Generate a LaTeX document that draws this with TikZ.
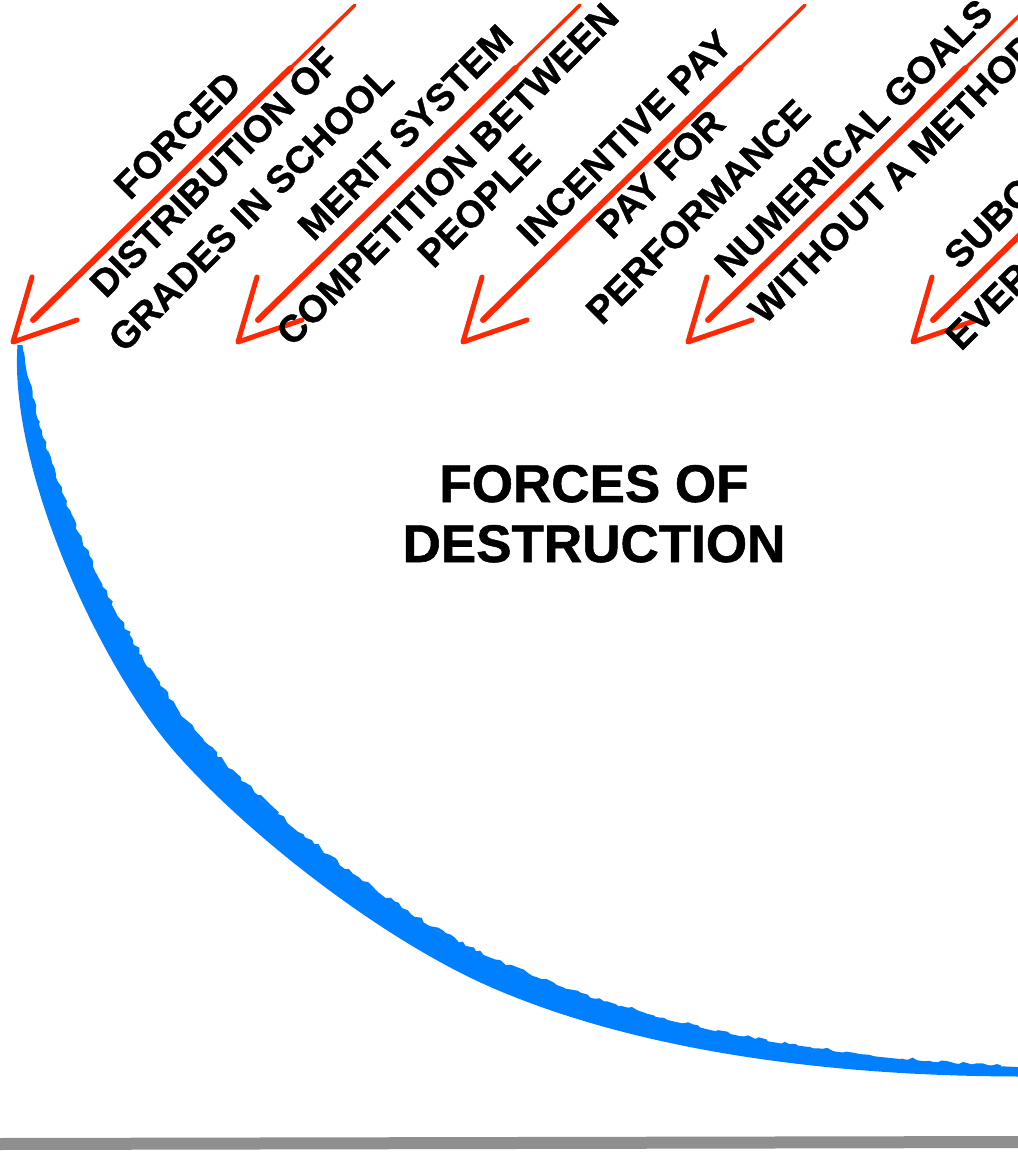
\documentclass[tikz,border=0pt]{standalone}
\usepackage{fontspec}
\setmainfont{Liberation Sans}[BoldFeatures={FakeBold=1}]
\usetikzlibrary{calc,decorations.pathmorphing}
\definecolor{arrowred}{RGB}{255,40,5}
\definecolor{curveblue}{RGB}{0,128,255}
\definecolor{baseg}{RGB}{143,143,143}
\begin{document}
\begin{tikzpicture}[x=1pt,y=-1pt,
  lbl/.style={rotate=45,anchor=base,font=\fontsize{38}{44}\selectfont\bfseries,inner sep=0pt},
  lblw/.style={lbl,anchor=base west},
  shaft/.style={draw=arrowred,line cap=round},
  head/.style={draw=arrowred,line width=5pt,line cap=round,line join=round},
  ttl/.style={font=\fontsize{53}{60}\selectfont\bfseries,anchor=base,inner sep=0pt}]
\pgfmathsetseed{11}
\useasboundingbox (0,0) rectangle (1018,1152);
\fill[white] (0,0) rectangle (1018,1152);
\clip (0,0) rectangle (1018,1152);

% ground line
\draw[baseg,line width=12pt] (-5,1144) -- (1025,1142);

% blue curve (tapered brush stroke)
\fill[curveblue]
  (22.5,345) .. controls (38,469.8) and (120.6,645.9) .. (193.6,730.9)
  .. controls (263.6,811.9) and (386.3,911.6) .. (496.3,961.1)
  .. controls (625.7,1020) and (800.1,1059) .. (1030,1067.5)
  -- (1030,1076.5)
  .. controls (799.9,1077) and (616.3,1043) .. (485.7,984.9)
  .. controls (375.7,935.4) and (242.4,830.1) .. (172.4,749.1)
  .. controls (99.4,664.1) and (9,470.2) .. (17.5,345)
  -- cycle;
% ragged upper edge of the brush stroke
\draw[curveblue,line width=3pt,decorate,decoration={random steps,segment length=5pt,amplitude=2pt}]
  (22.5,352) .. controls (38,469.8) and (120.6,645.9) .. (193.6,730.9)
  .. controls (263.6,811.9) and (386.3,911.6) .. (496.3,961.1)
  .. controls (625.7,1020) and (800.1,1059) .. (1000,1066.5);

% red arrows
\foreach \k in {0,...,4}{
  \pgfmathsetmacro{\dx}{225*\k}
  \coordinate (tail\k) at (355+\dx,5);
  \coordinate (send\k) at (33+\dx,320);
  \coordinate (tip\k) at (13+\dx,342);
  \coordinate (up\k) at (32+\dx,277);
  \coordinate (rt\k) at (77+\dx,320);
  \draw[shaft,line width=3.5pt] (tail\k) -- (send\k);
  \draw[shaft,line width=6pt] ($(tail\k)!0.2!(send\k)$) -- (send\k);
  \draw[head] (up\k) -- (tip\k) -- (rt\k);
}

% labels
\node[lbl] (f1a) at (186.7,144.3) {FORCED};
\node[lbl] (f1b) at (223.7,181.3) {DISTRIBUTION OF};
\node[lbl] (f1c) at (260.2,217.8) {GRADES IN SCHOOL};
\node[lbl] (f2a) at (414.5,141.5) {MERIT SYSTEM};
\node[lbl] (f2b) at (456.5,183.5) {COMPETITION BETWEEN};
\node[lbl] (f2c) at (488,215) {PEOPLE};
\node[lbl] (f3a) at (633.7,147.3) {INCENTIVE PAY};
\node[lbl] (f3b) at (669.7,183.3) {PAY FOR};
\node[lbl] (f3c) at (707.2,220.8) {PERFORMANCE};
\node[lbl] (f4a) at (862.8,147.2) {NUMERICAL GOALS};
\node[lbl] (f4b) at (902.8,187.2) {WITHOUT A METHOD};
\node[lblw] (f5a) at (959.9,271) {SUBO};
\node[lblw] (f5b) at (961,352) {EVER};

% title
\node[ttl] (t1) at (594,502) {FORCES OF};
\node[ttl] (t2) at (594,562) {DESTRUCTION};
\end{tikzpicture}
\end{document}
